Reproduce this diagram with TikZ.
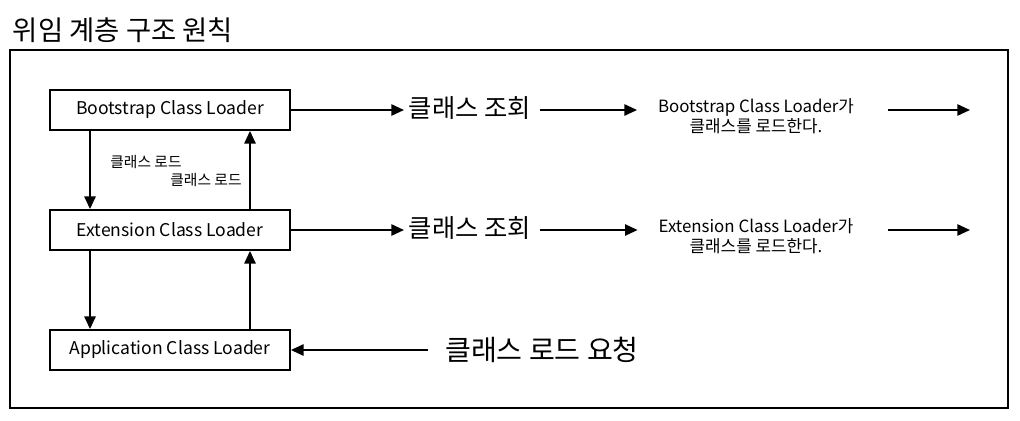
\documentclass[tikz,border=0pt]{standalone}
\usepackage{fontspec}
\setmainfont{Noto Sans CJK KR}
\usepackage{tikz}
\usetikzlibrary{positioning, arrows.meta, calc}
\tikzset{
  loader/.style={
    draw, line width=1.3pt, fill=white,
    minimum width=6cm, minimum height=1cm,
    align=center, font=\fontsize{12.5}{14}\selectfont
  },
  arrow/.style={-{Triangle[length=9pt,width=8pt]}, line width=1.3pt},
  lookup/.style={font=\fontsize{18}{21}\selectfont},
  result/.style={align=center, font=\fontsize{12}{14.5}\selectfont},
  small/.style={font=\fontsize{10.5}{12}\selectfont}
}

\begin{document}
\begin{tikzpicture}

\useasboundingbox (0,0) rectangle (25.5,-10.5);

%% ── Title and frame ──────────────────────────────────────────
\node[anchor=west, font=\fontsize{19.5}{22}\selectfont] (title) at (0.2,-0.75) {위임 계층 구조 원칙};
\draw[line width=1.3pt] (0.25,-1.25) rectangle (25.2,-10.2);

%% ── Class loaders ────────────────────────────────────────────
\node[loader] (boot) at (4.25,-2.75) {Bootstrap Class Loader};
\node[loader] (ext)  at (4.25,-5.75) {Extension Class Loader};
\node[loader] (app)  at (4.25,-8.75) {Application Class Loader};

\draw[arrow] ([xshift=-2cm]boot.south) -- ([xshift=-2cm]ext.north);
\draw[arrow] ([xshift=2cm]ext.north) -- ([xshift=2cm]boot.south);
\draw[arrow] ([xshift=-2cm]ext.south) -- ([xshift=-2cm]app.north);
\draw[arrow] ([xshift=2cm]app.north) -- ([xshift=2cm]ext.south);

\node[small] (load1) at (3.65,-4.05) {클래스 로드};
\node[small] (load2) at (5.15,-4.5) {클래스 로드};

%% ── Bootstrap row ────────────────────────────────────────────
\node[lookup] (look1) at (11.75,-2.7) {클래스 조회};
\node[result] (res1) at (18.9,-2.9) {Bootstrap Class Loader가\\클래스를 로드한다.};
\coordinate (start1) at (22.2,-2.75);
\coordinate (end1) at (24.25,-2.75);

\draw[arrow] (boot.east) -- (boot.east -| look1.west);
\draw[arrow] ([xshift=0.1cm]look1.east |- start1) -- ([xshift=-0.4cm]res1.west |- start1);
\draw[arrow] (start1) -- (end1);

%% ── Extension row ────────────────────────────────────────────
\node[lookup] (look2) at (11.75,-5.7) {클래스 조회};
\node[result] (res2) at (18.9,-5.9) {Extension Class Loader가\\클래스를 로드한다.};
\coordinate (start2) at (22.2,-5.75);
\coordinate (end2) at (24.25,-5.75);

\draw[arrow] (ext.east) -- (ext.east -| look2.west);
\draw[arrow] ([xshift=0.1cm]look2.east |- start2) -- ([xshift=-0.4cm]res2.west |- start2);
\draw[arrow] (start2) -- (end2);

%% ── Request ──────────────────────────────────────────────────
\node[lookup, font=\fontsize{20}{23}\selectfont] (req) at (13.55,-8.75) {클래스 로드 요청};
\draw[arrow] ([xshift=-0.3cm]req.west) -- (app);

\end{tikzpicture}
\end{document}
